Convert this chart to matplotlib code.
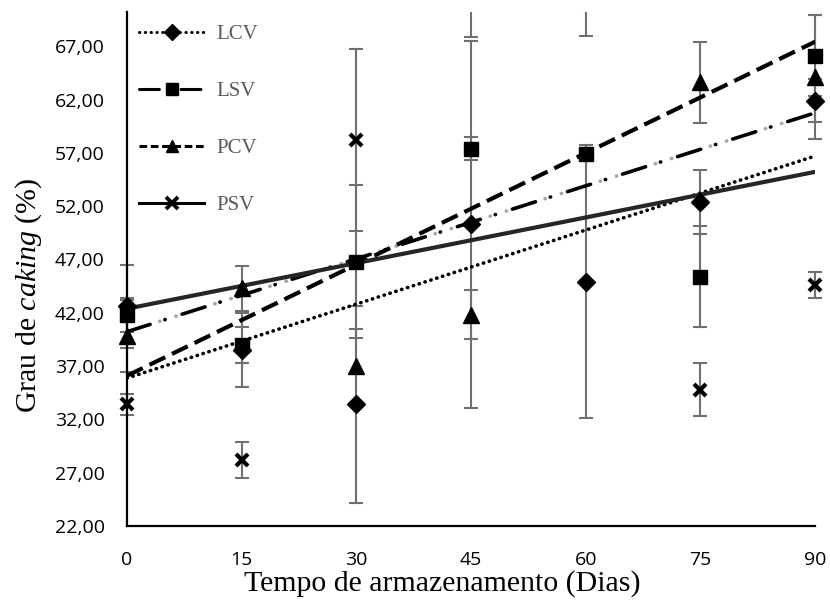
import numpy as np
import matplotlib
matplotlib.use("Agg")
import matplotlib.pyplot as plt
from matplotlib.lines import Line2D
from matplotlib.patches import Rectangle

plt.rcParams['mathtext.fontset'] = 'custom'
plt.rcParams['mathtext.rm'] = 'Liberation Serif'
plt.rcParams['mathtext.it'] = 'Liberation Serif:italic'

# storage time (days)
dias = [0, 15, 30, 45, 60, 75, 90]

# caking degree (%) and error bars per sample
lcv = [42.6, 38.5, 33.4, 50.3, 44.9, 52.4, 61.9]
lcv_err = [3.9, 3.5, 9.2, 17.2, 12.8, 3.0, 2.0]
lsv = [41.8, 39.0, 46.8, 57.4, 56.9, 45.4, 66.1]
lsv_err = [1.6, 1.7, 7.2, 1.1, 0.5, 4.7, 3.8]
pcv = [39.8, 44.3, 37.0, 41.8, 71.7, 63.6, 64.1]
pcv_err = [3.4, 2.1, 3.5, 2.3, 3.7, 3.8, 5.8]
psv = [33.4, 28.2, 58.2, 71.1, 71.3, 34.8, 44.6]
psv_err = [1.0, 1.7, 8.5, 3.2, 1.0, 2.5, 1.25]

yticks = [22, 27, 32, 37, 42, 47, 52, 57, 62, 67]
YMIN, YMAX = 22, 70.2

tick_font = 'Open Sans'
serif = 'Liberation Serif'

fig = plt.figure(figsize=(8.3, 6.06), dpi=100)
ax = fig.add_axes([0.153, 0.132, 0.829, 0.848])
ax.set_xlim(0, 90)
ax.set_ylim(YMIN, YMAX)

# clip region: full height of axes, a bit wider so end caps are not cut
clip = Rectangle((-0.03, 0), 1.06, 1, transform=ax.transAxes, facecolor='none', edgecolor='none')
ax.add_patch(clip)

x = np.array(dias, dtype=float)
xx = np.array([0.0, 90.0])

series = [
    ('LCV', lcv, lcv_err, 'D', 9),
    ('LSV', lsv, lsv_err, 's', 10),
    ('PCV', pcv, pcv_err, '^', 11),
    ('PSV', psv, psv_err, 'x', 9),
]

# error bars
for name, vals, err, mk, ms in series:
    eb = ax.errorbar(x, vals, yerr=err, fmt='none', ecolor='#707070',
                     elinewidth=1.5, capsize=5, capthick=1.5, zorder=2)
    for art in list(eb.lines[1]) + list(eb.lines[2]):
        art.set_clip_path(clip)


# linear trendlines (Excel style)
def trend(vals):
    k, b = np.polyfit(x, vals, 1)
    return k * xx + b


ax.plot(xx, trend(lcv), color='black', lw=2.6, linestyle=(0, (0.1, 1.6)),
        dash_capstyle='round', zorder=3)
ax.plot(xx, trend(lsv), color='black', lw=2.6, linestyle=(0, (6.7, 4.3, 0.1, 4.9)),
        dash_capstyle='round', zorder=3)
ax.plot(xx, trend(lsv), color='#a6a6a6', lw=2.6, linestyle=(6.5, (0.1, 4.6, 0.1, 11.2)),
        dash_capstyle='round', zorder=3)
ax.plot(xx, trend(pcv), color='black', lw=3, linestyle=(0, (4.2, 1.8)), zorder=3)
ax.plot(xx, trend(psv), color='#262626', lw=3, linestyle='-', zorder=3)

# markers (only points inside the value range are visible)
for name, vals, err, mk, ms in series:
    v = np.array(vals, dtype=float)
    v = np.where(v <= YMAX, v, np.nan)
    if mk == 'x':
        ax.plot(x, v, linestyle='none', marker=mk, ms=ms, mew=3,
                color='black', clip_on=False, zorder=4)
    else:
        ax.plot(x, v, linestyle='none', marker=mk, ms=ms, color='black',
                clip_on=False, zorder=4)

# axes styling
for side in ['top', 'right']:
    ax.spines[side].set_visible(False)
for side in ['left', 'bottom']:
    ax.spines[side].set_linewidth(1.6)
    ax.spines[side].set_color('black')

ax.set_xticks(dias)
ax.set_yticks(yticks)
ax.set_yticklabels([f"{t:.2f}".replace('.', ',') for t in yticks])
ax.tick_params(axis='both', length=0, labelsize=14)
ax.tick_params(axis='x', pad=18)
ax.tick_params(axis='y', pad=16)
for lab in ax.get_xticklabels() + ax.get_yticklabels():
    lab.set_fontfamily(tick_font)

ax.set_xlabel('Tempo de armazenamento (Dias)', fontfamily=serif, fontsize=21.5)
ax.xaxis.set_label_coords(0.458, -0.085)
ax.set_ylabel('Grau de $\\mathit{caking}$ (%)', fontfamily=serif, fontsize=21.5)
ax.yaxis.set_label_coords(-0.121, 0.45)

# legend
handles = [
    Line2D([], [], color='black', lw=2.2, linestyle=(0, (0.1, 1.8)), dash_capstyle='round',
           marker='D', ms=8, markerfacecolor='black'),
    Line2D([], [], color='black', lw=2.2, linestyle=(0, (6.5, 3.5, 0.1, 3.5)), dash_capstyle='round',
           marker='s', ms=9, markerfacecolor='black'),
    Line2D([], [], color='black', lw=2.2, linestyle=(0, (2.5, 1.2)),
           marker='^', ms=9, markerfacecolor='black'),
    Line2D([], [], color='black', lw=2.2, linestyle='-',
           marker='x', ms=9, mew=2.8),
]
leg = ax.legend(handles, ['LCV', 'LSV', 'PCV', 'PSV'], loc='upper left',
                bbox_to_anchor=(0.0, 1.0), frameon=False, numpoints=1,
                handlelength=3.1, labelspacing=1.8, handletextpad=0.6,
                borderaxespad=0.3, borderpad=0.3,
                prop={'family': serif, 'size': 15})
for t in leg.get_texts():
    t.set_color('#595959')

fig.savefig('out.png', dpi=100)
